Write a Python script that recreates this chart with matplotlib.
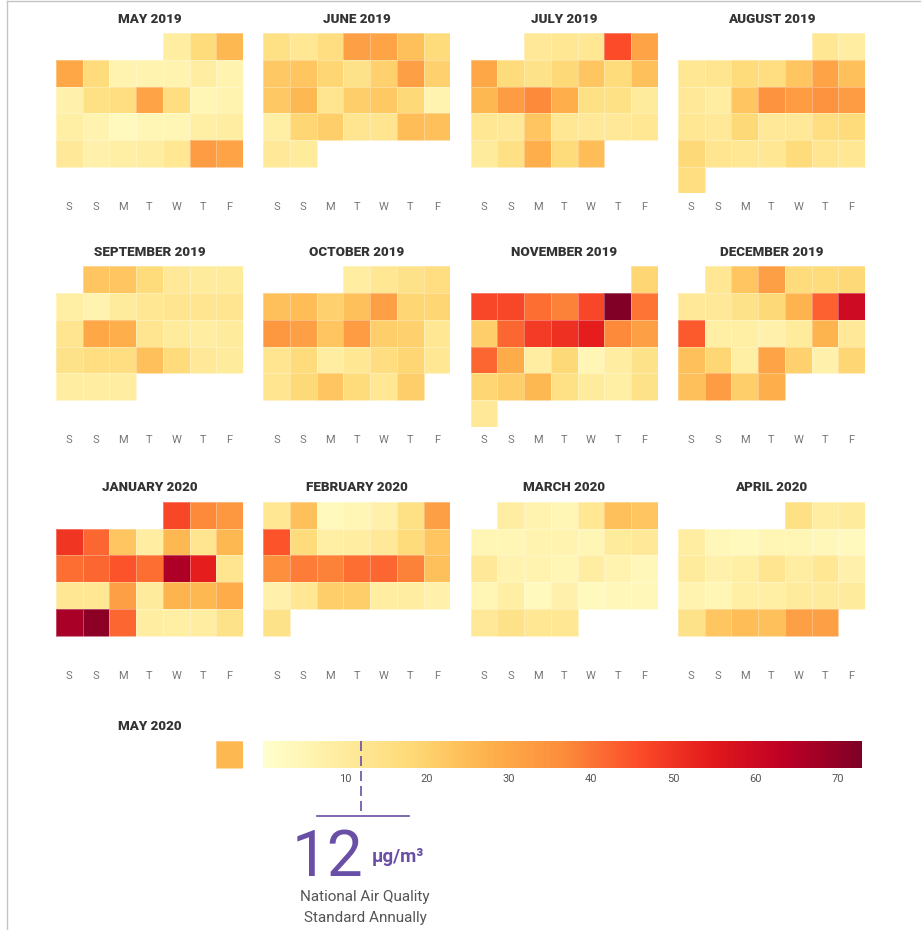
# PM2.5 daily calendar heatmap, May 2019 - May 2020

import datetime
import numpy as np
import matplotlib
matplotlib.use("Agg")
import matplotlib.pyplot as plt
from matplotlib.colors import Normalize

plt.rcParams['font.family'] = ['Roboto', 'DejaVu Sans']

# ---- data (daily values, ug/m3) ----
months = [(2019, 5), (2019, 6), (2019, 7), (2019, 8),
          (2019, 9), (2019, 10), (2019, 11), (2019, 12),
          (2020, 1), (2020, 2), (2020, 3), (2020, 4), (2020, 5)]
titles = ["MAY 2019", "JUNE 2019", "JULY 2019", "AUGUST 2019",
          "SEPTEMBER 2019", "OCTOBER 2019", "NOVEMBER 2019", "DECEMBER 2019",
          "JANUARY 2020", "FEBRUARY 2020", "MARCH 2020", "APRIL 2020", "MAY 2020"]

may_2019 = [9, 17, 26,
            30, 17, 6, 6, 6, 9, 6,
            7, 15, 16, 31, 16, 5, 6,
            8, 6, 3, 5, 5, 8, 9,
            11, 7, 8, 9, 12, 33, 31]
jun_2019 = [15, 12, 16, 32, 31, 24, 17,
            22, 23, 19, 14, 20, 32, 20,
            22, 26, 13, 21, 22, 18, 6,
            8, 19, 21, 13, 13, 25, 24,
            11, 10]
jul_2019 = [11, 12, 12, 46, 31,
            30, 17, 14, 18, 23, 17, 24,
            26, 33, 37, 28, 15, 15, 10,
            12, 11, 23, 12, 11, 11, 12,
            10, 15, 28, 17, 25]
aug_2019 = [12, 9,
            12, 13, 17, 16, 23, 31, 24,
            11, 9, 23, 35, 33, 35, 33,
            12, 11, 18, 11, 11, 16, 17,
            18, 13, 12, 12, 17, 13, 12,
            16]
sep_2019 = [23, 23, 17, 11, 10, 10,
            8, 6, 10, 12, 13, 13, 13,
            13, 30, 28, 13, 10, 9, 10,
            14, 16, 16, 24, 17, 11, 10,
            9, 9, 9]
oct_2019 = [9, 12, 14, 16,
            24, 25, 20, 24, 32, 19, 19,
            34, 32, 23, 33, 21, 20, 12,
            13, 17, 9, 12, 16, 19, 12,
            13, 18, 23, 17, 12, 21]
nov_2019 = [19,
            47, 47, 41, 38, 47, 73, 40,
            21, 42, 49, 51, 54, 37, 32,
            42, 29, 9, 18, 5, 9, 14,
            19, 21, 26, 15, 10, 8, 14,
            11]
dec_2019 = [12, 23, 32, 17, 17, 18,
            11, 11, 14, 18, 27, 43, 60,
            44, 8, 8, 7, 10, 27, 11,
            24, 19, 8, 31, 20, 7, 19,
            24, 33, 21, 28]
jan_2020 = [47, 37, 34,
            50, 42, 23, 9, 26, 13, 26,
            41, 42, 45, 41, 66, 54, 13,
            12, 12, 32, 10, 27, 26, 29,
            67, 71, 42, 9, 8, 9, 14]
feb_2020 = [12, 24, 3, 5, 7, 15, 32,
            45, 17, 8, 9, 11, 17, 23,
            36, 39, 38, 41, 42, 38, 24,
            7, 12, 21, 21, 9, 9, 7,
            14]
mar_2020 = [9, 6, 5, 12, 24, 23,
            5, 5, 6, 6, 5, 10, 11,
            11, 6, 6, 5, 9, 6, 4,
            5, 8, 3, 7, 3, 4, 4,
            11, 14, 12, 12]
apr_2020 = [15, 9, 10,
            9, 4, 3, 5, 5, 4, 3,
            10, 7, 8, 13, 9, 12, 7,
            6, 5, 8, 8, 10, 10, 10,
            14, 23, 25, 24, 32, 32]
may_2020 = [26]

values = [may_2019, jun_2019, jul_2019, aug_2019, sep_2019, oct_2019,
          nov_2019, dec_2019, jan_2020, feb_2020, mar_2020, apr_2020, may_2020]

day_labels = ["S", "S", "M", "T", "W", "T", "F"]
cbar_ticks = [10, 20, 30, 40, 50, 60, 70]
vmax = 73
standard = 12

# ---- layout (pixels) ----
W, H = 923, 930
fig = plt.figure(figsize=(W / 100, H / 100), dpi=100)
cmap = plt.get_cmap("YlOrRd")
norm = Normalize(0, vmax)
purple = "#6a4fa6"


def px_axes(x, y, w, h):
    return fig.add_axes([x / W, 1 - (y + h) / H, w / W, h / H])


cell = 26.7
lefts = [56, 263.3, 470.7, 678]
tops = [33.3, 266.5, 502, 741]

for i, ((yr, mo), title, vals) in enumerate(zip(months, titles, values)):
    grid = np.full((6, 7), np.nan)
    first_col = (datetime.date(yr, mo, 1).weekday() + 2) % 7  # week starts Saturday
    for d, v in enumerate(vals):
        pos = first_col + d
        grid[pos // 7, pos % 7] = v
    ax = px_axes(lefts[i % 4], tops[i // 4], 7 * cell, 6 * cell)
    ax.pcolormesh(np.ma.masked_invalid(grid), cmap=cmap, norm=norm,
                  edgecolors=(1, 1, 1, 0.3), linewidth=0.4)
    ax.set_xlim(0, 7)
    ax.set_ylim(6, 0)
    ax.axis("off")
    ax.text(3.5, -0.53, title, ha="center", va="center", fontsize=9.6,
            fontweight="heavy", color="#333333", clip_on=False)
    if i < 12:
        for c, lab in enumerate(day_labels):
            ax.text(c + 0.5, 6.5, lab, ha="center", va="center", fontsize=8,
                    color="#777777", clip_on=False)

# colour scale
cx, cy, cw, ch = 263, 741, 599, 26.5
cax = px_axes(cx, cy, cw, ch)
cax.imshow(np.linspace(0, vmax, 600)[None, :], cmap=cmap, norm=norm,
           aspect="auto", extent=[0, vmax, 0, 1])
cax.set_xlim(0, vmax)
cax.set_yticks([])
cax.set_xticks(cbar_ticks)
cax.tick_params(axis="x", length=0, labelsize=8, labelcolor="#555555", pad=5)
for s in cax.spines.values():
    s.set_visible(False)

# overlay for annotation and frame
ov = fig.add_axes([0, 0, 1, 1])
ov.set_xlim(0, W)
ov.set_ylim(H, 0)
ov.axis("off")
ov.patch.set_alpha(0)

x12 = cx + standard / vmax * cw
ov.plot([x12, x12], [cy, 815], color=purple, lw=1.2, ls=(0, (6, 3)))
ov.plot([x12 - 44, x12 + 48], [815.5, 815.5], color=purple, lw=1.2)
ov.text(x12 + 2, 876, str(standard), ha="right", va="baseline", fontsize=46,
        color=purple)
ov.text(x12 + 10, 862, "µg/m³", ha="left", va="baseline", fontsize=13.5,
        fontweight="bold", color=purple)
ov.text(365, 897, "National Air Quality", ha="center", va="center",
        fontsize=11, color="#555555")
ov.text(365, 918, "Standard Annually", ha="center", va="center",
        fontsize=11, color="#555555")

ov.plot([6.5, 6.5], [1, H], color="#c4c4c4", lw=1)
ov.plot([6.5, 920], [1.2, 1.2], color="#c4c4c4", lw=1)

fig.savefig("out.png", dpi=100)
